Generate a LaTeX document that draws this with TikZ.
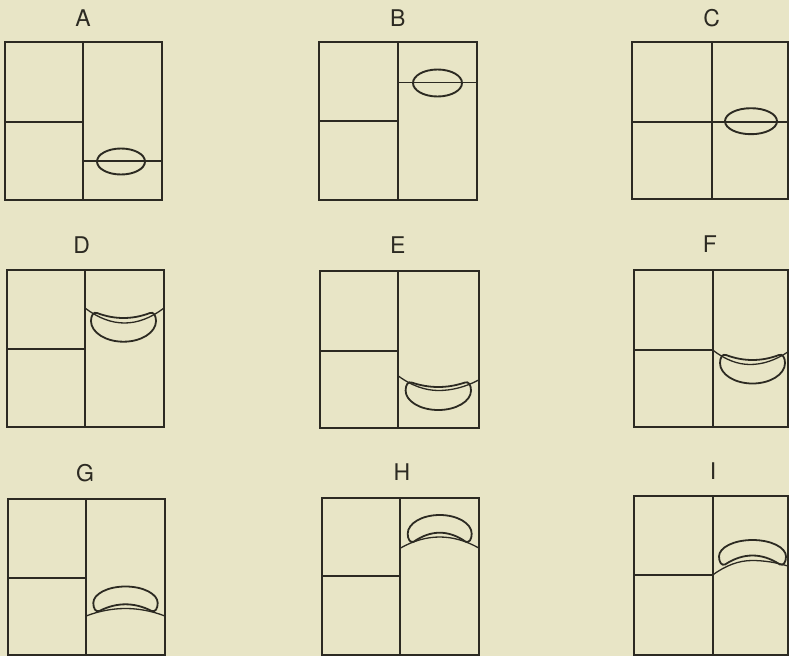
\documentclass[tikz,border=0pt]{standalone}
\usepackage{fontspec}
\setmainfont{TeX Gyre Heros}
\definecolor{paper}{RGB}{232,229,198}
\definecolor{ink}{RGB}{44,42,34}
\tikzset{
  box/.style={draw=ink,line width=1.9pt},
  div/.style={draw=ink,line width=1.7pt},
  wall/.style={draw=ink,line width=1.3pt},
  beanline/.style={draw=ink,line width=1.8pt,line join=round},
  nuc/.style={draw=ink,line width=1.9pt},
  lab/.style={inner sep=0pt,text=ink,font=\fontsize{23}{23}\selectfont}
}
\newcommand\cellwall[6]{\draw[wall] (#1,#2) .. controls ({#1+(#3-#1)/3},{#2+2*(#4-#2)/3}) and ({#3-(#3-#1)/3},#4) .. (#3,#4) .. controls ({#3+(#5-#3)/3},#4) and ({#5-(#5-#3)/3},{#6+2*(#4-#6)/3}) .. (#5,#6);}
% bean: cx, y of tips, orientation (1 hangs down, -1 stands up), half width, concave depth, height
\newcommand\bean[6]{\begin{scope}[shift={(#1,#2)},yscale=#3]
\draw[beanline] ({-#4+6},0) .. controls ({-(#4-6)*2/3},{#5*2/3}) and ({-(#4-6)/3},#5) .. (0,#5) .. controls ({(#4-6)/3},#5) and ({(#4-6)*2/3},{#5*2/3}) .. ({#4-6},0) .. controls ({#4-2.5},-1.5) and (#4,2.5) .. (#4,8) .. controls (#4,{8+0.552*(#6-8)}) and ({0.552*#4},#6) .. (0,#6) .. controls ({-0.552*#4},#6) and (-#4,{8+0.552*(#6-8)}) .. (-#4,8) .. controls (-#4,2.5) and ({-#4+2.5},-1.5) .. ({-#4+6},0) -- cycle;
\end{scope}}
\newcommand\panel[6]{% x0 y0 x1 y1 xv yh
\draw[box] (#1,#2) rectangle (#3,#4);
\draw[div] (#5,#2) -- (#5,#4);
\draw[div] (#1,#6) -- (#5,#6);}
\begin{document}
\begin{tikzpicture}[x=1pt,y=-1pt]
\useasboundingbox (0,0) rectangle (789,656);
\fill[paper] (0,0) rectangle (789,656);
% labels
\node[lab] (labA) at (83,18) {A};
\node[lab] (labB) at (397.7,18) {B};
\node[lab] (labC) at (711.7,18) {C};
\node[lab] (labD) at (81.7,245) {D};
\node[lab] (labE) at (397.7,245) {E};
\node[lab] (labF) at (710,244) {F};
\node[lab] (labG) at (85,473) {G};
\node[lab] (labH) at (402,472) {H};
\node[lab] (labI) at (713,471) {I};
% A
\panel{5}{42}{162}{200}{83}{122}
\draw[div] (83,161) -- (162,161);
\draw[nuc] (121,161.5) ellipse [x radius=24, y radius=13];
% B
\panel{318.7}{42}{476.7}{200}{398}{121}
\draw[div] (398,82.5) -- (476.7,82.5);
\draw[nuc] (437.5,83) ellipse [x radius=24.5, y radius=13.5];
% C
\panel{631.7}{41.7}{787.8}{199}{711.7}{121.7}
\draw[div] (711.7,121.7) -- (787.8,121.7);
\draw[nuc] (751,121.2) ellipse [x radius=26, y radius=13];
% D
\panel{6.7}{270}{164}{427.3}{85}{349.3}
\cellwall{85}{308}{124.5}{323}{164}{308}
\bean{123.5}{313}{1}{32.5}{5}{28.7}
% E
\panel{320.3}{271}{478.7}{428.3}{398.3}{351}
\cellwall{398.3}{376}{438.5}{390.5}{478.7}{380}
\bean{438.3}{382.5}{1}{32.7}{4.5}{27.5}
% F
\panel{634.3}{270.3}{787.8}{427.3}{712.7}{350}
\cellwall{712.7}{350}{750}{364.5}{787.8}{352}
\bean{752.5}{355}{1}{32.5}{5}{28.5}
% G
\panel{7.7}{499.3}{165}{655}{86}{577.7}
\cellwall{86}{616}{125.5}{608.5}{165}{616}
\bean{125.5}{611}{-1}{32.2}{6.7}{24.5}
% H
\panel{321.7}{497.7}{479.3}{655}{400}{576}
\cellwall{400}{548.3}{439.7}{537}{479.3}{548.3}
\bean{439.7}{541.7}{-1}{32}{9}{26.7}
% I
\panel{634.3}{496}{787.8}{655}{712.7}{575}
\cellwall{712.7}{575}{752}{560.5}{787.8}{566}
\bean{752.5}{564.5}{-1}{33.5}{9}{24.5}
\end{tikzpicture}
\end{document}
